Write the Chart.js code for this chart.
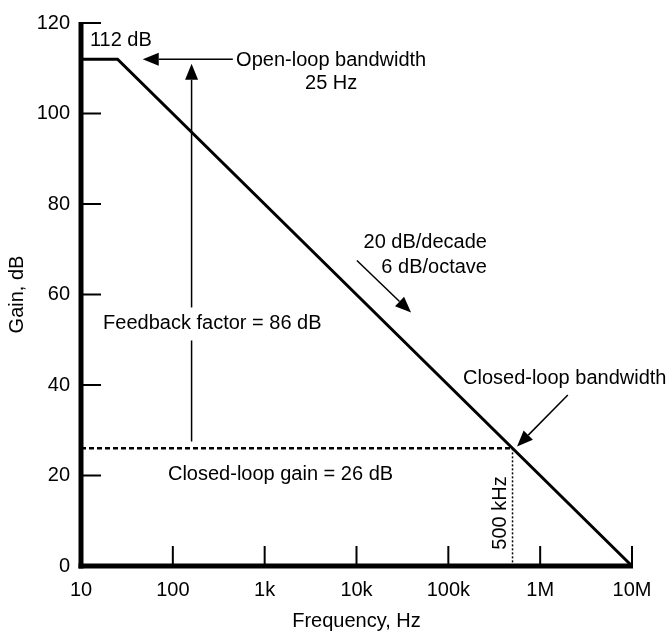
<!DOCTYPE html>
<html><head><meta charset="utf-8">
<script src="https://cdn.jsdelivr.net/npm/chart.js@4/dist/chart.umd.min.js"></script>
<style>html,body{margin:0;padding:0;background:#fff}#wrap{width:669px;height:635px}</style>
</head><body><div id="wrap"><canvas id="c" width="669" height="635"></canvas></div>
<script>
// ---- data ----
const xTickValues = [10, 100, 1e3, 1e4, 1e5, 1e6, 1e7];
const xTickLabels = ['10', '100', '1k', '10k', '100k', '1M', '10M'];
const yTickValues = [0, 20, 40, 60, 80, 100, 120];

const openLoopFreq = [10, 25, 1e7];
const openLoopGain = [112, 112, 0];

const closedLoopFreq = [10, 5e5];
const closedLoopGain = [26, 26];

const bandwidthFreq = [5e5, 5e5];
const bandwidthGain = [26, 0];

// annotation arrows (data units: Hz, dB)
const arrowFromFreq = [450, 160, 10100, 2.0e6];
const arrowFromGain = [112, 27.5, 67.5, 37.8];
const arrowToFreq   = [47, 160, 39300, 5.6e5];
const arrowToGain   = [112, 111, 56, 26.4];

// annotation texts (data units)
const noteTexts = ['112 dB', 'Open-loop bandwidth', '25 Hz', 'Feedback factor = 86 dB',
  'Closed-loop gain = 26 dB', '20 dB/decade', '6 dB/octave', 'Closed-loop bandwidth', '500 kHz'];
const noteFreq  = [12.5, 5300, 5300, 17.4, 88.5, 263600, 263600, 144500, 370000];
const noteGain  = [116.1, 111.7, 106.7, 53.6, 20.2, 71.4, 65.9, 41.4, 11.7];
const noteAlign = ['left', 'center', 'center', 'left', 'left', 'right', 'right', 'left', 'center'];
const noteRotate = [false, false, false, false, false, false, false, false, true];
const noteBackground = [false, false, false, true, false, false, false, false, false];

const FONT = 'Liberation Sans, Arial, Helvetica, sans-serif';
const FS = 20;

const toPts = (xs, ys) => xs.map((v, i) => ({x: v, y: ys[i]}));

const annotPlugin = {
  id: 'annot',
  afterDatasetsDraw(chart) {
    const {ctx, scales: {x, y}} = chart;
    const px = v => x.getPixelForValue(v);
    const py = v => y.getPixelForValue(v);
    const line = (a, b, c, d) => { ctx.beginPath(); ctx.moveTo(a, b); ctx.lineTo(c, d); ctx.stroke(); };
    ctx.save();
    ctx.strokeStyle = '#000'; ctx.fillStyle = '#000';
    // inward ticks
    ctx.lineWidth = 2;
    xTickValues.forEach(v => { const X = px(v); line(X, py(0), X, py(0) - 20); });
    yTickValues.forEach(v => { const Y = py(v); line(px(10), Y, px(10) + 20, Y); });
    // axis lines
    ctx.lineWidth = 5;
    line(px(10), py(120) - 1, px(10), py(0) + 2.5);
    line(px(10) - 2.5, py(0), px(1e7) + 1, py(0));
    // arrows
    ctx.lineWidth = 1.5;
    for (let i = 0; i < arrowFromFreq.length; i++) {
      const x1 = px(arrowFromFreq[i]), y1 = py(arrowFromGain[i]);
      const x2 = px(arrowToFreq[i]), y2 = py(arrowToGain[i]);
      const ang = Math.atan2(y2 - y1, x2 - x1);
      const L = 16, W = 6.5;
      const bx = x2 - L * Math.cos(ang), by = y2 - L * Math.sin(ang);
      line(x1, y1, bx, by);
      ctx.beginPath();
      ctx.moveTo(x2, y2);
      ctx.lineTo(bx + W * Math.sin(ang), by - W * Math.cos(ang));
      ctx.lineTo(bx - W * Math.sin(ang), by + W * Math.cos(ang));
      ctx.closePath(); ctx.fill();
    }
    // texts
    ctx.font = FS + 'px ' + FONT;
    ctx.textBaseline = 'middle';
    for (let i = 0; i < noteTexts.length; i++) {
      const X = px(noteFreq[i]), Y = py(noteGain[i]);
      ctx.save();
      ctx.translate(X, Y);
      if (noteRotate[i]) ctx.rotate(-Math.PI / 2);
      ctx.textAlign = noteAlign[i];
      if (noteBackground[i]) {
        const w = ctx.measureText(noteTexts[i]).width;
        const left = noteAlign[i] === 'left' ? 0 : noteAlign[i] === 'right' ? -w : -w / 2;
        ctx.fillStyle = '#fff';
        ctx.fillRect(left - 3, -16, w + 6, 33);
        ctx.fillStyle = '#000';
      }
      ctx.fillText(noteTexts[i], 0, 0);
      ctx.restore();
    }
    ctx.restore();
  }
};

new Chart(document.getElementById('c'), {
  type: 'line',
  data: {
    datasets: [
      {data: toPts(openLoopFreq, openLoopGain), borderColor: '#000', borderWidth: 3, pointRadius: 0, tension: 0, clip: false},
      {data: toPts(closedLoopFreq, closedLoopGain), borderColor: '#000', borderWidth: 2.5, borderDash: [5, 3], pointRadius: 0, tension: 0},
      {data: toPts(bandwidthFreq, bandwidthGain), borderColor: '#000', borderWidth: 1.5, borderDash: [2, 2], pointRadius: 0, tension: 0}
    ]
  },
  options: {
    responsive: false,
    animation: false,
    devicePixelRatio: 1,
    layout: {padding: {left: 0, right: 37, top: 17, bottom: 0}},
    plugins: {legend: {display: false}, tooltip: {enabled: false}, title: {display: false}},
    scales: {
      x: {
        type: 'logarithmic', position: 'bottom', min: 10, max: 1e7,
        afterBuildTicks: s => { s.ticks = xTickValues.map(v => ({value: v})); },
        afterFit: s => { s.height = 69; },
        ticks: {autoSkip: false, maxRotation: 0, padding: 12, color: '#000',
          font: {family: FONT, size: FS}, callback: (v, i) => xTickLabels[i]},
        grid: {display: false, drawTicks: false},
        border: {display: false},
        title: {display: true, text: 'Frequency, Hz', color: '#000', font: {family: FONT, size: FS}, padding: {top: 0, bottom: 2}}
      },
      y: {
        type: 'linear', position: 'left', min: 0, max: 120,
        afterBuildTicks: s => { s.ticks = yTickValues.map(v => ({value: v})); },
        afterFit: s => { s.width = 81; },
        ticks: {padding: 11, color: '#000', font: {family: FONT, size: FS}},
        grid: {display: false, drawTicks: false},
        border: {display: false},
        title: {display: true, text: 'Gain, dB', color: '#000', font: {family: FONT, size: FS}, padding: {top: 5, bottom: 0}}
      }
    }
  },
  plugins: [annotPlugin]
});
</script>
</body></html>
